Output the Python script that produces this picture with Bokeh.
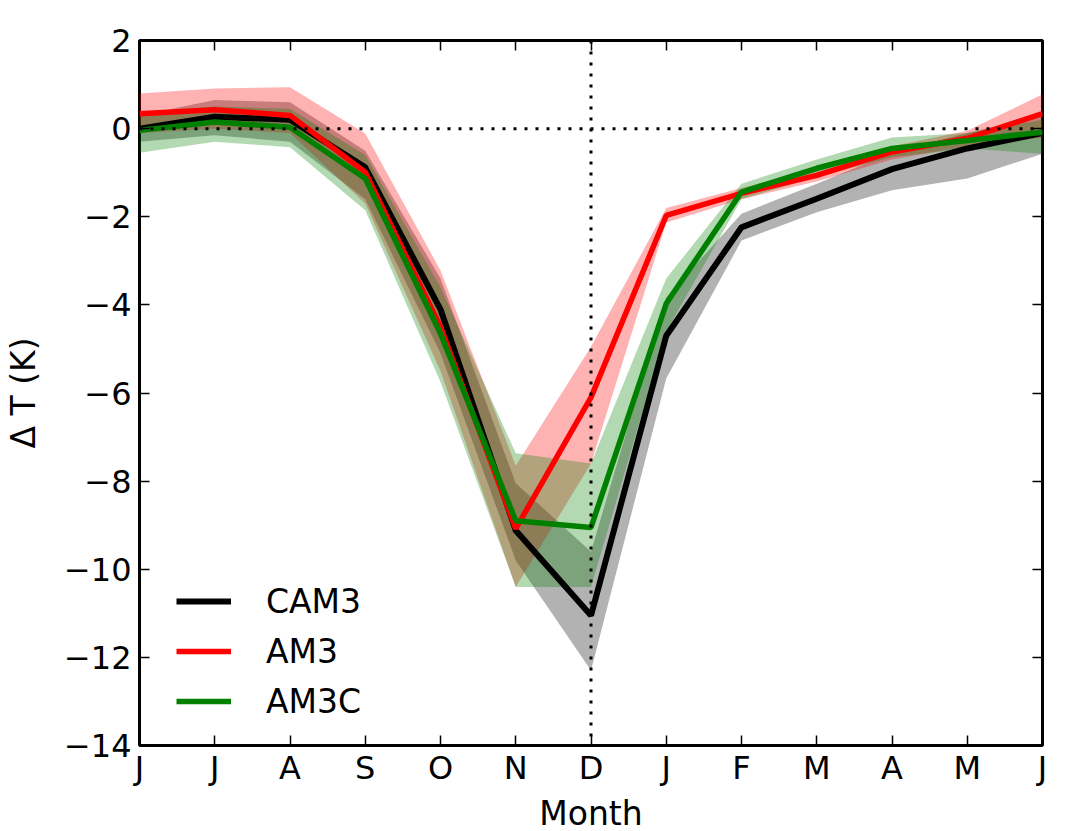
from bokeh.plotting import figure
from bokeh.models import FixedTicker, LinearAxis, Span, Legend, LegendItem, Range1d
from bokeh.embed import file_html
from bokeh.resources import INLINE

# ---- data ----
months = ["J", "J", "A", "S", "O", "N", "D", "J", "F", "M", "A", "M", "J"]
x_pos = list(range(len(months)))

cam3 = [0.0, 0.27, 0.2, -0.88, -4.1, -9.12, -11.05, -4.7, -2.24, -1.59, -0.92, -0.45, -0.1]
cam3_lo = [-0.3, -0.15, -0.3, -1.6, -5.1, -9.8, -12.3, -5.67, -2.54, -1.9, -1.4, -1.13, -0.57]
cam3_hi = [0.3, 0.65, 0.6, -0.5, -3.4, -8.05, -9.6, -3.83, -1.93, -1.25, -0.55, -0.1, 0.3]

am3 = [0.34, 0.43, 0.3, -0.99, -4.5, -9.08, -6.1, -1.97, -1.47, -1.06, -0.53, -0.22, 0.34]
am3_lo = [-0.1, 0.0, -0.1, -1.7, -5.5, -10.4, -7.6, -2.13, -1.6, -1.2, -0.7, -0.4, -0.2]
am3_hi = [0.8, 0.91, 0.94, -0.11, -3.22, -7.65, -4.95, -1.8, -1.35, -0.9, -0.4, -0.05, 0.78]

am3c = [-0.04, 0.15, 0.03, -1.13, -4.65, -8.9, -9.05, -3.97, -1.44, -0.9, -0.45, -0.27, -0.08]
am3c_lo = [-0.55, -0.3, -0.42, -1.85, -5.75, -10.4, -10.4, -4.6, -1.6, -1.1, -0.65, -0.45, -0.57]
am3c_hi = [0.35, 0.5, 0.45, -0.6, -3.6, -7.37, -7.6, -3.4, -1.25, -0.7, -0.2, -0.1, 0.2]

y_ticks = [2, 0, -2, -4, -6, -8, -10, -12, -14]

FONT = "DejaVu Sans"

p = figure(
    output_backend="svg", toolbar_location=None,
    frame_width=903, frame_height=705,
    min_border_left=138, min_border_right=15, min_border_top=40, min_border_bottom=84,
    x_range=Range1d(0, len(months) - 1), y_range=Range1d(-14, 2),
    background_fill_color="white", border_fill_color="white",
)
p.grid.visible = False
p.outline_line_color = "black"
p.outline_line_width = 3

series = [
    ("CAM3", cam3, cam3_lo, cam3_hi, "#000000", 6),
    ("AM3", am3, am3_lo, am3_hi, "#ff0000", 5.5),
    ("AM3C", am3c, am3c_lo, am3c_hi, "#008000", 5.5),
]

for name, ys, lo, hi, col, w in series:
    p.varea(x=x_pos, y1=lo, y2=hi, fill_color=col, fill_alpha=0.3)

# reference lines
p.add_layout(Span(location=0, dimension="width", line_color="black", line_width=3, line_dash="3 8"))
p.add_layout(Span(location=months.index("D"), dimension="height", line_color="black", line_width=3, line_dash="3 8"))

items = []
for name, ys, lo, hi, col, w in series:
    r = p.line(x=x_pos, y=ys, line_color=col, line_width=w)
    items.append(LegendItem(label=name, renderers=[r]))

# axes
xa = p.xaxis[0]
xa.ticker = FixedTicker(ticks=x_pos)
xa.major_label_overrides = {i: m for i, m in enumerate(months)}
ya = p.yaxis[0]
ya.ticker = FixedTicker(ticks=y_ticks)
ya.major_label_overrides = {v: (("\u2212" + str(abs(v))) if v < 0 else str(v)) for v in y_ticks}

for ax in (xa, ya):
    ax.axis_line_color = None
    ax.major_tick_in = 10
    ax.major_tick_out = 0
    ax.major_tick_line_width = 1.5
    ax.minor_tick_line_color = None
    ax.major_label_text_font = FONT
    ax.major_label_text_font_size = "32px"
    ax.major_label_text_color = "black"
    ax.axis_label_text_font = FONT
    ax.axis_label_text_font_size = "33px"
    ax.axis_label_text_font_style = "normal"
    ax.axis_label_text_color = "black"

xa.axis_label = "Month"
xa.major_label_standoff = 3
xa.axis_label_standoff = 4
ya.axis_label = "\u0394 T (K)"
ya.major_label_standoff = 8
ya.axis_label_standoff = 18

# mirror ticks on top and right (labels not drawn)
top = LinearAxis(ticker=FixedTicker(ticks=x_pos), axis_line_color=None,
                 major_tick_in=10, major_tick_out=0, minor_tick_line_color=None,
                 major_label_text_font_size="1px", major_label_text_color=None,
                 major_label_standoff=0, major_tick_line_width=1.5)
right = LinearAxis(ticker=FixedTicker(ticks=y_ticks), axis_line_color=None,
                   major_tick_in=10, major_tick_out=0, minor_tick_line_color=None,
                   major_label_text_font_size="1px", major_label_text_color=None,
                   major_label_standoff=0, major_tick_line_width=1.5)
p.add_layout(top, "above")
p.add_layout(right, "right")

legend = Legend(items=items, location=(37, 24))
legend.border_line_alpha = 0
legend.background_fill_alpha = 0
legend.margin = 0
legend.padding = 0
legend.glyph_width = 55
legend.glyph_height = 40
legend.label_height = 40
legend.spacing = 10
legend.label_standoff = 35
legend.label_text_font = FONT
legend.label_text_font_size = "33px"
legend.label_text_color = "black"
p.add_layout(legend, "center")

open("out.html", "w").write(file_html(p, INLINE))
